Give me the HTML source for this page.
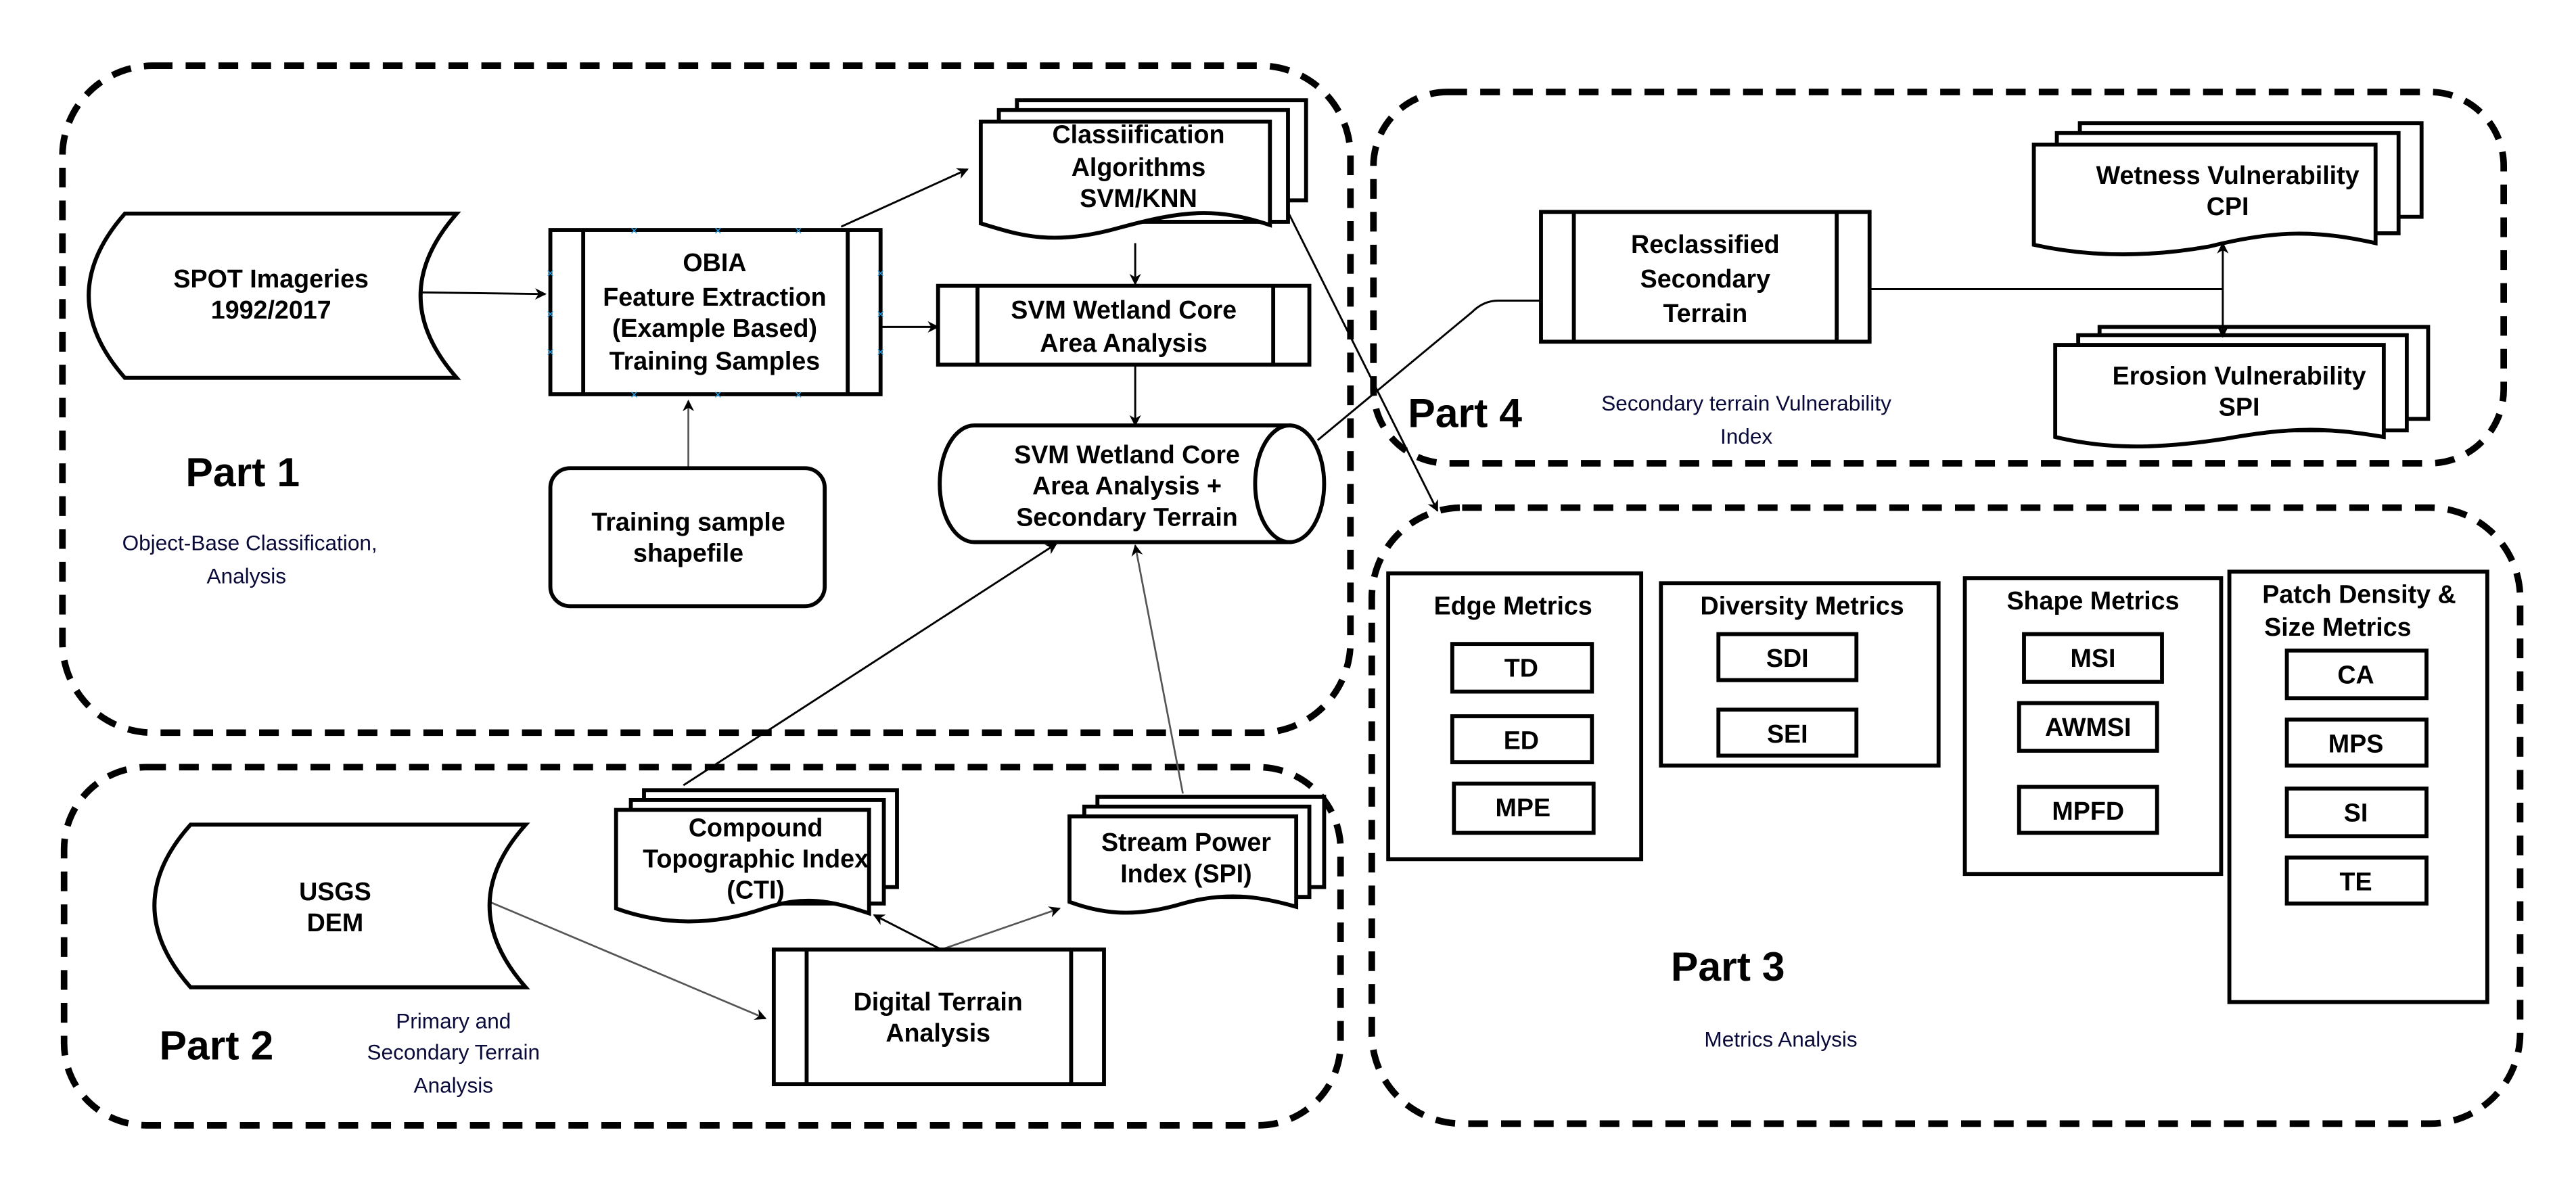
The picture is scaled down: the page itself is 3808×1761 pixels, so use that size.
<!DOCTYPE html>
<html><head><meta charset="utf-8"><style>
html,body{margin:0;padding:0;background:#fff;}
svg{display:block;}
text{font-family:"Liberation Sans",Arial,sans-serif;}
.b{font-weight:bold;font-size:15.5px;fill:#000;text-anchor:middle;}
.d{font-size:13px;fill:#0a0a3a;text-anchor:middle;}
.p{font-weight:bold;font-size:25px;fill:#000;}
.s{fill:#fff;stroke:#000;stroke-width:2.4;}
.l{fill:none;stroke:#000;stroke-width:1.2;}
.g{fill:none;stroke:#555;stroke-width:1.1;}
.dash{fill:none;stroke:#000;stroke-width:4;stroke-dasharray:12 8;}
.x{fill:#2a9fe0;font-size:8px;text-anchor:middle;font-family:"DejaVu Sans",sans-serif;}
</style></head><body>
<svg width="3808" height="1761" viewBox="0 0 1568 725" preserveAspectRatio="none" xmlns="http://www.w3.org/2000/svg">
<defs>
<marker id="a" viewBox="0 0 10 10" refX="9" refY="5" markerWidth="7" markerHeight="7" orient="auto-start-reverse" markerUnits="userSpaceOnUse"><path d="M0 0L10 5L0 10L3 5Z" fill="#000"/></marker>
</defs>
<rect width="1568" height="725" fill="#fff"/>
<!-- part boxes -->
<rect class="dash" x="38" y="40" width="784" height="406" rx="55"/>
<rect class="dash" x="39" y="467" width="777" height="218" rx="50"/>
<rect class="dash" x="836" y="56" width="688" height="226" rx="45"/>
<rect class="dash" x="835" y="309" width="699" height="375" rx="55"/>

<!-- connectors -->
<line class="l" x1="257" y1="178" x2="332" y2="179" marker-end="url(#a)"/>
<line class="g" x1="419" y1="285" x2="419" y2="244" marker-end="url(#a)"/>
<line class="l" x1="512" y1="138" x2="589" y2="103" marker-end="url(#a)"/>
<line class="l" x1="691" y1="148" x2="691" y2="173" marker-end="url(#a)"/>
<line class="l" x1="531" y1="199" x2="571" y2="199" marker-end="url(#a)"/>
<line class="l" x1="691" y1="222" x2="691" y2="259" marker-end="url(#a)"/>
<line class="l" x1="782" y1="125" x2="875" y2="311" marker-end="url(#a)"/>
<path class="l" d="M802 268 L896 190 Q903 183 912 183 L938 183"/>
<line class="l" x1="416" y1="478" x2="643" y2="331" marker-end="url(#a)"/>
<line class="g" x1="720" y1="483" x2="691" y2="332" marker-end="url(#a)"/>
<line class="g" x1="298" y1="549" x2="466" y2="620" marker-end="url(#a)"/>
<line class="l" x1="573" y1="578" x2="532" y2="557" marker-end="url(#a)"/>
<line class="g" x1="573" y1="578" x2="645" y2="553" marker-end="url(#a)"/>
<line class="l" x1="1138" y1="176" x2="1353" y2="176"/>

<!-- SPOT -->
<path class="s" d="M76 130 H278 Q234 180 278 230 H76 Q32 180 76 130Z"/>
<text class="b" x="165" y="175">SPOT Imageries</text><text class="b" x="165" y="194">1992/2017</text>
<!-- OBIA -->
<rect class="s" x="335" y="140" width="201" height="100"/>
<line class="s" x1="355" y1="140" x2="355" y2="240"/><line class="s" x1="516" y1="140" x2="516" y2="240"/>
<text class="b" x="435" y="165">OBIA</text><text class="b" x="435" y="186">Feature Extraction</text>
<text class="b" x="435" y="205">(Example Based)</text><text class="b" x="435" y="225">Training Samples</text>
<g class="x"><text x="386" y="143">×</text><text x="437" y="143">×</text><text x="486" y="143">×</text>
<text x="386" y="243">×</text><text x="437" y="243">×</text><text x="486" y="243">×</text>
<text x="335" y="169">×</text><text x="335" y="194">×</text><text x="335" y="217">×</text>
<text x="536" y="169">×</text><text x="536" y="194">×</text><text x="536" y="217">×</text></g>
<!-- training -->
<rect class="s" x="335" y="285" width="167" height="84" rx="12"/>
<text class="b" x="419" y="323">Training sample</text><text class="b" x="419" y="342">shapefile</text>
<!-- classification doc stack -->
<g>
<path class="s" d="M619 61 H795 V122 L619 122Z"/>
<path class="s" d="M608 67 H784 V135 L608 135Z"/>
<path class="s" d="M597 74 H773 V137 C740 126 720 128 680 139 C640 150 620 143 597 136Z"/>
</g>
<text class="b" x="693" y="87">Classiification</text><text class="b" x="693" y="107">Algorithms</text><text class="b" x="693" y="126">SVM/KNN</text>
<!-- SVM box -->
<rect class="s" x="571" y="174" width="226" height="48"/>
<line class="s" x1="595" y1="174" x2="595" y2="222"/><line class="s" x1="775" y1="174" x2="775" y2="222"/>
<text class="b" x="684" y="194">SVM Wetland Core</text><text class="b" x="684" y="214">Area Analysis</text>
<!-- cylinder -->
<path class="s" d="M593 259 H785 V330 H593 A21 35.5 0 0 1 593 259Z"/>
<ellipse class="s" cx="785" cy="294.5" rx="21" ry="35.5"/>
<text class="b" x="686" y="282">SVM Wetland Core</text><text class="b" x="686" y="301">Area Analysis +</text><text class="b" x="686" y="320">Secondary Terrain</text>
<!-- part 1 labels -->
<text class="p" x="113" y="296">Part 1</text>
<text class="d" x="152" y="335">Object-Base Classification,</text><text class="d" x="150" y="355">Analysis</text>

<!-- DEM -->
<path class="s" d="M116 502 H320 Q276 551 320 601 H116 Q72 551 116 502Z"/>
<text class="b" x="204" y="548">USGS</text><text class="b" x="204" y="567">DEM</text>
<!-- CTI stack -->
<path class="s" d="M392 481 H546 V540 L392 540Z"/>
<path class="s" d="M384 487 H538 V550 L384 550Z"/>
<path class="s" d="M375 493 H529 V556 C505 548 490 545 465 553 C430 565 400 562 375 553Z"/>
<text class="b" x="460" y="509">Compound</text><text class="b" x="460" y="528">Topographic Index</text><text class="b" x="460" y="547">(CTI)</text>
<!-- SPI stack -->
<path class="s" d="M668 485 H806 V540 L668 540Z"/>
<path class="s" d="M660 491 H797 V546 L660 546Z"/>
<path class="s" d="M651 497 H789 V552 C765 545 745 543 720 550 C690 559 670 556 651 549Z"/>
<text class="b" x="722" y="518">Stream Power</text><text class="b" x="722" y="537">Index (SPI)</text>
<!-- DTA -->
<rect class="s" x="471" y="578" width="201" height="82"/>
<line class="s" x1="491" y1="578" x2="491" y2="660"/><line class="s" x1="652" y1="578" x2="652" y2="660"/>
<text class="b" x="571" y="615">Digital Terrain</text><text class="b" x="571" y="634">Analysis</text>
<text class="p" x="97" y="645">Part 2</text>
<text class="d" x="276" y="626">Primary and</text><text class="d" x="276" y="645">Secondary Terrain</text><text class="d" x="276" y="665">Analysis</text>

<!-- Part 4 -->
<rect class="s" x="938" y="129" width="200" height="79"/>
<line class="s" x1="958" y1="129" x2="958" y2="208"/><line class="s" x1="1118" y1="129" x2="1118" y2="208"/>
<text class="b" x="1038" y="154">Reclassified</text><text class="b" x="1038" y="175">Secondary</text><text class="b" x="1038" y="196">Terrain</text>
<path class="s" d="M1266 75 H1474 V132 L1266 132Z"/>
<path class="s" d="M1252 81 H1460 V142 L1252 142Z"/>
<path class="s" d="M1238 88 H1446 V148 C1410 140 1385 140 1345 150 C1300 158 1265 155 1238 149Z"/>
<text class="b" x="1356" y="112">Wetness Vulnerability</text><text class="b" x="1356" y="131">CPI</text>
<path class="s" d="M1278 199 H1478 V255 L1278 255Z"/>
<path class="s" d="M1265 204 H1465 V262 L1265 262Z"/>
<path class="s" d="M1251 210 H1451 V266 C1415 260 1395 260 1355 267 C1310 274 1280 273 1251 266Z"/>
<text class="b" x="1363" y="234">Erosion Vulnerability</text><text class="b" x="1363" y="253">SPI</text>
<line class="l" x1="1353" y1="148" x2="1353" y2="205" marker-start="url(#a)" marker-end="url(#a)"/>
<text class="p" x="857" y="260">Part 4</text>
<text class="d" x="1063" y="250">Secondary terrain Vulnerability</text><text class="d" x="1063" y="270">Index</text>

<!-- Part 3 -->
<rect class="s" x="845" y="349" width="154" height="174"/>
<text class="b" x="921" y="374">Edge Metrics</text>
<rect class="s" x="884" y="392" width="85" height="29"/><text class="b" x="926" y="412">TD</text>
<rect class="s" x="884" y="436" width="85" height="28"/><text class="b" x="926" y="456">ED</text>
<rect class="s" x="885" y="477" width="85" height="30"/><text class="b" x="927" y="497">MPE</text>

<rect class="s" x="1011" y="355" width="169" height="111"/>
<text class="b" x="1097" y="374">Diversity Metrics</text>
<rect class="s" x="1046" y="386" width="84" height="28"/><text class="b" x="1088" y="406">SDI</text>
<rect class="s" x="1046" y="432" width="84" height="28"/><text class="b" x="1088" y="452">SEI</text>

<rect class="s" x="1196" y="352" width="156" height="180"/>
<text class="b" x="1274" y="371">Shape Metrics</text>
<rect class="s" x="1232" y="386" width="84" height="29"/><text class="b" x="1274" y="406">MSI</text>
<rect class="s" x="1229" y="428" width="84" height="29"/><text class="b" x="1271" y="448">AWMSI</text>
<rect class="s" x="1229" y="479" width="84" height="28"/><text class="b" x="1271" y="499">MPFD</text>

<rect class="s" x="1357" y="348" width="157" height="262"/>
<text class="b" x="1436" y="367">Patch Density &amp;</text><text class="b" x="1423" y="387">Size Metrics</text>
<rect class="s" x="1392" y="396" width="85" height="29"/><text class="b" x="1434" y="416">CA</text>
<rect class="s" x="1392" y="438" width="85" height="28"/><text class="b" x="1434" y="458">MPS</text>
<rect class="s" x="1392" y="480" width="85" height="29"/><text class="b" x="1434" y="500">SI</text>
<rect class="s" x="1392" y="522" width="85" height="28"/><text class="b" x="1434" y="542">TE</text>
<text class="p" x="1017" y="597">Part 3</text>
<text class="d" x="1084" y="637">Metrics Analysis</text>
</svg>
</body></html>
